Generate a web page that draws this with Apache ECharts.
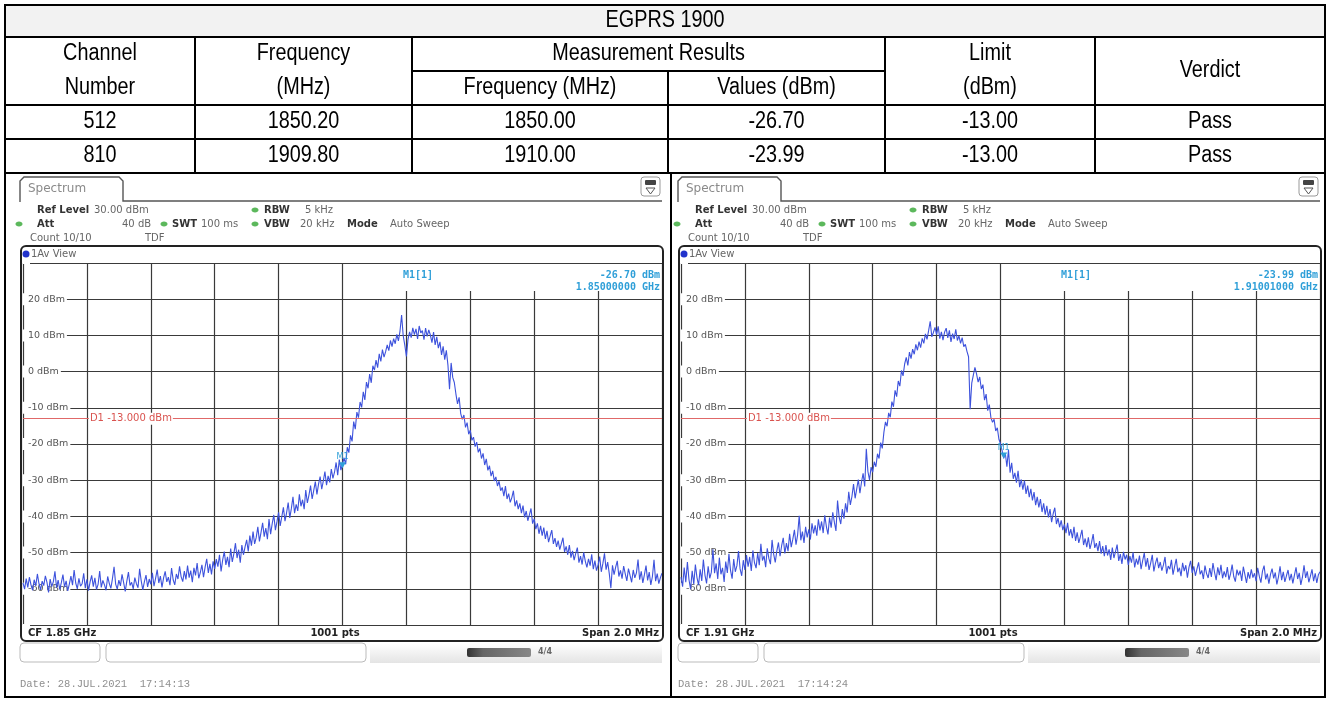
<!DOCTYPE html>
<html>
<head>
<meta charset="utf-8">
<script src="https://cdn.jsdelivr.net/npm/echarts@6/dist/echarts.min.js"></script>
<style>
html,body{margin:0;padding:0;background:#fff;}
#c{width:1330px;height:702px;}
</style>
</head>
<body>
<div id="c"></div>
<script>
// ---- Result table ----
const bandTitle = 'EGPRS 1900';
const channels = ['512', '810'];
const channelFreqs = ['1850.20', '1909.80'];
const measuredFreqs = ['1850.00', '1910.00'];
const measuredValues = ['-26.70', '-23.99'];
const limits = ['-13.00', '-13.00'];
const verdicts = ['Pass', 'Pass'];

// ---- Analyzer sweeps: level in dBm, 5 kHz steps over a 2 MHz span ----
const sweepStartMHz = [1849.0, 1909.0];
const sweepStepMHz = 0.005;
const trace512 = [
  -58.4,-60.1,-57.2,-59.6,-56.8,-58.9,-60.4,-57.5,-59.2,-55.9,-58.6,-60.3,-57.9,-59.1,-56.4,-58.2,-61.0,-57.3,-59.4,-58.0,
  -55.2,-59.7,-57.6,-60.2,-58.3,-56.1,-59.5,-57.8,-60.6,-58.7,-56.5,-59.0,-54.8,-58.4,-60.0,-57.1,-59.3,-58.6,-55.7,-59.8,
  -57.4,-60.5,-58.1,-56.3,-59.4,-57.0,-60.2,-58.8,-55.1,-59.6,-57.7,-58.9,-60.4,-56.6,-58.5,-59.9,-57.2,-53.9,-58.7,-60.1,
  -57.6,-59.2,-56.0,-58.3,-60.7,-57.9,-55.4,-59.1,-58.2,-60.0,-56.9,-58.6,-59.7,-54.5,-57.8,-60.3,-58.0,-56.2,-59.5,-57.3,
  -58.8,-55.6,-59.3,-57.1,-54.7,-58.4,-56.5,-59.6,-57.0,-55.2,-58.1,-56.8,-59.0,-54.3,-57.5,-58.9,-55.9,-57.3,-53.8,-56.7,
  -58.0,-55.1,-57.4,-53.6,-56.9,-55.0,-58.2,-54.2,-56.3,-52.9,-57.1,-55.5,-53.4,-56.8,-54.0,-51.7,-55.6,-53.1,-56.0,-52.4,
  -54.5,-51.8,-53.9,-50.6,-55.2,-52.0,-49.7,-53.4,-51.2,-54.0,-48.9,-52.6,-50.3,-47.4,-51.5,-49.2,-52.8,-47.9,-50.6,-48.4,
  -46.5,-49.7,-45.3,-48.1,-44.2,-47.6,-45.8,-42.9,-46.9,-44.4,-41.8,-45.6,-43.2,-46.3,-40.7,-44.9,-42.0,-39.6,-43.8,-41.4,
  -38.9,-42.6,-40.1,-37.5,-41.3,-39.0,-36.2,-40.4,-37.8,-34.6,-39.1,-36.7,-38.5,-33.9,-37.2,-35.4,-38.0,-32.7,-36.3,-34.1,
  -31.5,-35.2,-32.8,-30.4,-33.9,-31.1,-29.0,-32.5,-30.2,-27.6,-31.4,-28.8,-30.6,-26.9,-29.5,-27.8,-25.1,-28.6,-24.3,-27.2,
  -26.70,-23.8,-25.6,-20.9,-22.4,-17.6,-19.3,-13.8,-15.9,-11.2,-12.7,-8.4,-9.9,-5.6,-7.8,-2.9,-4.6,-0.7,-3.1,1.6,
  0.4,3.2,1.1,4.9,2.8,6.1,4.0,5.5,7.4,5.8,8.6,6.9,9.1,7.7,10.3,8.5,11.2,15.6,9.9,7.3,
  4.2,8.9,11.0,9.4,12.1,10.2,11.8,9.0,12.6,10.7,11.3,8.8,12.0,9.7,11.5,10.1,8.0,10.9,7.4,9.6,
  6.5,8.2,4.6,7.0,3.3,5.9,1.8,-4.9,2.4,-1.6,-3.0,-6.2,-8.9,-7.1,-11.6,-13.2,-12.0,-15.4,-14.1,-17.3,
  -16.2,-19.0,-18.1,-20.7,-19.5,-22.3,-21.2,-24.0,-22.6,-25.8,-24.1,-27.3,-26.0,-28.9,-27.4,-30.2,-29.1,-31.6,-30.3,-32.9,
  -32.0,-34.4,-31.6,-35.2,-33.7,-36.1,-34.8,-32.9,-37.2,-35.6,-38.0,-36.4,-39.1,-37.0,-40.3,-38.5,-41.2,-39.6,-37.8,-42.0,
  -40.7,-43.5,-41.9,-44.8,-42.6,-45.3,-43.1,-46.2,-44.0,-47.1,-45.4,-43.8,-47.6,-46.0,-48.4,-46.7,-49.2,-47.5,-45.9,-49.8,
  -48.3,-50.6,-47.9,-51.4,-49.5,-52.1,-50.2,-48.6,-52.8,-51.0,-53.3,-49.9,-52.4,-54.1,-51.7,-53.6,-50.5,-54.6,-52.2,-55.0,
  -53.4,-51.1,-55.3,-53.0,-50.2,-54.7,-52.6,-55.8,-59.8,-53.5,-56.1,-54.0,-52.3,-56.6,-54.9,-57.2,-53.7,-55.9,-57.8,-54.4,
  -56.3,-58.2,-54.8,-57.0,-55.6,-51.9,-57.5,-55.2,-58.4,-56.1,-53.6,-57.7,-55.4,-58.9,-56.6,-52.0,-57.9,-55.8,-58.6,-56.9,
  -55.7
];
const trace810 = [
  -56.8,-59.4,-54.1,-58.2,-52.6,-57.5,-60.1,-55.0,-58.7,-53.3,-56.9,-59.0,-54.6,-57.8,-51.9,-56.2,-58.5,-53.8,-57.1,-55.4,
  -49.1,-55.7,-53.0,-57.3,-51.4,-56.0,-54.2,-58.1,-52.5,-55.6,-50.3,-54.9,-57.2,-51.8,-55.3,-53.6,-49.6,-54.5,-56.4,-52.1,
  -54.8,-50.7,-53.9,-51.2,-55.1,-49.4,-52.8,-54.3,-50.1,-53.5,-47.6,-52.2,-50.9,-54.0,-48.8,-51.6,-53.2,-46.5,-50.4,-52.7,
  -49.5,-47.2,-51.0,-48.1,-45.9,-50.2,-47.4,-49.6,-44.8,-48.5,-46.3,-43.7,-47.8,-45.1,-39.8,-46.6,-44.2,-47.3,-42.9,-45.8,
  -43.6,-46.4,-41.9,-44.7,-42.5,-45.3,-40.8,-43.9,-41.4,-44.6,-39.7,-42.8,-45.0,-40.3,-43.1,-38.9,-41.6,-44.0,-35.6,-40.2,
  -42.1,-38.0,-40.6,-36.4,-38.9,-33.2,-36.8,-34.5,-31.1,-35.0,-32.4,-29.8,-33.6,-30.5,-28.1,-31.7,-21.3,-27.6,-29.9,-26.4,
  -27.8,-24.9,-26.3,-22.7,-24.0,-19.6,-21.2,-16.8,-13.9,-15.1,-11.4,-12.6,-8.3,-9.7,-5.2,-6.9,-2.6,-4.0,0.3,-1.2,
  2.1,3.9,1.7,5.4,3.6,6.2,4.8,7.5,5.9,8.3,6.6,9.2,7.8,10.4,8.9,11.3,13.9,9.6,10.8,12.2,
  10.2,12.5,9.1,11.0,8.7,10.9,12.0,9.3,11.4,8.2,10.5,9.0,11.7,8.6,9.9,7.8,9.4,6.9,7.5,5.6,
  4.1,-10.4,-3.2,-1.0,1.2,-0.6,-2.9,-1.5,-4.8,-3.6,-7.9,-6.2,-10.8,-9.1,-12.7,-14.0,-13.2,-16.4,-15.5,-18.7,
  -19.9,-21.8,-23.99,-22.5,-26.3,-21.6,-27.9,-25.2,-29.6,-28.0,-30.7,-27.4,-31.9,-29.8,-32.6,-30.1,-33.8,-31.5,-34.7,-32.4,
  -35.6,-33.3,-36.9,-34.6,-37.5,-35.2,-38.8,-36.4,-39.5,-37.1,-40.3,-38.0,-41.6,-39.2,-37.6,-42.1,-40.5,-43.0,-41.1,-43.8,
  -42.2,-44.6,-41.8,-45.3,-43.5,-46.0,-42.9,-46.8,-44.4,-47.3,-45.6,-43.7,-47.9,-46.1,-48.5,-45.8,-49.0,-47.2,-44.9,-48.7,
  -47.4,-49.6,-46.8,-50.3,-48.2,-51.0,-47.9,-50.8,-49.1,-52.0,-48.6,-51.5,-49.7,-47.8,-52.3,-50.4,-53.1,-49.8,-51.9,-50.6,
  -53.4,-51.0,-52.8,-49.9,-54.1,-51.7,-53.3,-50.8,-54.6,-52.2,-50.1,-53.9,-51.5,-54.8,-52.9,-50.6,-55.2,-53.0,-51.4,-54.3,
  -52.6,-55.0,-53.4,-51.2,-55.8,-53.7,-54.6,-52.0,-56.1,-53.9,-51.7,-55.4,-54.2,-56.5,-52.8,-55.1,-53.5,-56.9,-54.0,-52.3,
  -55.6,-53.8,-56.4,-54.5,-52.7,-56.0,-54.9,-57.3,-53.6,-55.8,-57.0,-54.3,-56.7,-52.9,-55.5,-57.6,-54.1,-56.2,-53.4,-57.1,
  -55.2,-56.8,-54.0,-57.5,-55.9,-53.3,-56.6,-58.0,-54.7,-56.3,-55.0,-57.8,-53.9,-56.1,-58.4,-55.4,-57.2,-54.6,-56.9,-55.7,
  -57.9,-54.2,-56.5,-58.3,-55.1,-53.6,-57.4,-55.8,-58.6,-56.0,-54.4,-57.1,-55.5,-58.8,-56.7,-53.8,-57.6,-55.3,-58.1,-56.4,
  -54.8,-57.7,-55.9,-58.5,-56.2,-54.1,-57.3,-55.6,-58.9,-56.8,-53.5,-57.0,-55.2,-58.2,-56.5,-54.6,-57.9,-55.7,-58.4,-56.1,
  -55.3
];
const traces = [trace512, trace810];
const markerFreqMHz = [1850.00, 1910.01];
const markerLevel = [-26.70, -23.99];
const markerReadout = [['-26.70 dBm', '1.85000000 GHz'], ['-23.99 dBm', '1.91001000 GHz']];
const displayLineDbm = -13;
const displayLineText = 'D1 -13.000 dBm';
const centerLabels = ['CF 1.85 GHz', 'CF 1.91 GHz'];
const dateLabels = ['Date: 28.JUL.2021  17:14:13', 'Date: 28.JUL.2021  17:14:24'];
const refLevelMax = 30, refLevelMin = -70, levelStep = 10;
const spanMHz = 2, divisionMHz = 0.2;

// ---- drawing helpers ----
const G = [];
const TF = '22px "Liberation Sans", Arial, sans-serif';
const SF = '"DejaVu Sans", Verdana, sans-serif';
function txt(x, y, s, font, fill, align, z) {
  G.push({ type: 'text', z: z || 20, silent: true,
    style: { x: x, y: y, text: s, font: font, fill: fill || '#000', align: align || 'center', verticalAlign: 'middle' } });
}
// table cell text, slightly condensed
function cellTxt(x, y, s) {
  G.push({ type: 'text', z: 20, silent: true, x: x, y: y, scaleX: 0.9, scaleY: 1.05,
    style: { x: 0, y: 0, text: s, font: TF, fill: '#000', align: 'center', verticalAlign: 'middle' } });
}
function ln(x1, y1, x2, y2, stroke, w, z) {
  G.push({ type: 'line', z: z || 20, silent: true, shape: { x1: x1, y1: y1, x2: x2, y2: y2 }, style: { stroke: stroke, lineWidth: w } });
}
function rc(x, y, w, h, fill, stroke, lw, r, z) {
  G.push({ type: 'rect', z: z || 1, silent: true, shape: { x: x, y: y, width: w, height: h, r: r || 0 },
    style: { fill: fill || 'none', stroke: stroke || 'none', lineWidth: lw || 0 } });
}

// ---- table ----
const colX = [5, 195, 412, 668, 885, 1095, 1325];
const rowY = [5, 37, 71, 105, 139, 173];
const tableBottom = 697;
const panelSplitX = 671;
const mid = (a, b) => (a + b) / 2;
rc(5, 5, 1320, 32, '#f2f2f2', null, 0, 0, 1);
cellTxt(mid(colX[0], colX[6]), 21, bandTitle);
cellTxt(mid(colX[0], colX[1]), 54, 'Channel');
cellTxt(mid(colX[0], colX[1]), 88, 'Number');
cellTxt(mid(colX[1], colX[2]), 54, 'Frequency');
cellTxt(mid(colX[1], colX[2]), 88, '(MHz)');
cellTxt(mid(colX[2], colX[4]), 54, 'Measurement Results');
cellTxt(mid(colX[2], colX[3]), 88, 'Frequency (MHz)');
cellTxt(mid(colX[3], colX[4]), 88, 'Values (dBm)');
cellTxt(mid(colX[4], colX[5]), 54, 'Limit');
cellTxt(mid(colX[4], colX[5]), 88, '(dBm)');
cellTxt(mid(colX[5], colX[6]), 71, 'Verdict');
const rowCols = [channels, channelFreqs, measuredFreqs, measuredValues, limits, verdicts];
for (let r = 0; r < channels.length; r++) {
  const yc = mid(rowY[3 + r], rowY[4 + r]);
  for (let c = 0; c < 6; c++) cellTxt(mid(colX[c], colX[c + 1]), yc, rowCols[c][r]);
}
ln(5, 37, 1325, 37, '#000', 2);
ln(colX[2], 71, colX[4], 71, '#000', 2);
ln(5, 105, 1325, 105, '#000', 2);
ln(5, 139, 1325, 139, '#000', 2);
ln(5, 173, 1325, 173, '#000', 2);
[1, 2, 4, 5].forEach(c => ln(colX[c], 37, colX[c], 173, '#000', 2));
ln(colX[3], 71, colX[3], 173, '#000', 2);
ln(panelSplitX, 173, panelSplitX, tableBottom, '#000', 2);
rc(5, 5, 1320, 692, null, '#000', 2, 0, 21);

// ---- analyzer screen chrome ----
const plotLeft = [23, 681];
const plotTop = 263, plotH = 362, plotW = 639;
const cyan = '#2f9fd8';
function panel(p) {
  const dx = plotLeft[p] - plotLeft[0];
  // tab + title bar
  G.push({ type: 'polyline', z: 5, silent: true,
    shape: { points: [[dx + 20, 202], [dx + 20, 181], [dx + 24, 177], [dx + 119, 177], [dx + 123, 181], [dx + 123, 201], [dx + 662, 201]] },
    style: { stroke: '#555', lineWidth: 1.4, fill: 'none' } });
  txt(dx + 28, 189, 'Spectrum', '12px ' + SF, '#8a8a8a', 'left', 6);
  // menu icon
  rc(dx + 641, 177, 19, 19, '#fff', '#999', 1, 3, 6);
  rc(dx + 645, 180, 11, 5, '#444', null, 0, 1, 7);
  G.push({ type: 'polygon', z: 7, silent: true, shape: { points: [[dx + 646, 188], [dx + 655, 188], [dx + 650.5, 194]] }, style: { fill: 'none', stroke: '#555', lineWidth: 1 } });
  // settings lines
  const dot = (x, y) => G.push({ type: 'ellipse', z: 6, silent: true, shape: { cx: x, cy: y, rx: 3.5, ry: 2.5 }, style: { fill: '#5cb85c' } });
  const B = 'bold 10px ' + SF, N = '10px ' + SF;
  txt(dx + 37, 210, 'Ref Level', B, '#333', 'left', 6);
  txt(dx + 94, 210, '30.00 dBm', N, '#666', 'left', 6);
  dot(dx + 255, 210);
  txt(dx + 264, 210, 'RBW', B, '#333', 'left', 6);
  txt(dx + 305, 210, '5 kHz', N, '#666', 'left', 6);
  dot(dx + 19, 224);
  txt(dx + 37, 224, 'Att', B, '#333', 'left', 6);
  txt(dx + 122, 224, '40 dB', N, '#666', 'left', 6);
  dot(dx + 164, 224);
  txt(dx + 172, 224, 'SWT', B, '#333', 'left', 6);
  txt(dx + 201, 224, '100 ms', N, '#666', 'left', 6);
  dot(dx + 255, 224);
  txt(dx + 264, 224, 'VBW', B, '#333', 'left', 6);
  txt(dx + 300, 224, '20 kHz', N, '#666', 'left', 6);
  txt(dx + 347, 224, 'Mode', B, '#333', 'left', 6);
  txt(dx + 390, 224, 'Auto Sweep', N, '#666', 'left', 6);
  txt(dx + 30, 238, 'Count 10/10', N, '#666', 'left', 6);
  txt(dx + 145, 238, 'TDF', N, '#666', 'left', 6);
  // diagram frame
  rc(dx + 21, 246, 642, 395, null, '#222', 2, 5, 30);
  G.push({ type: 'circle', z: 6, silent: true, shape: { cx: dx + 26, cy: 254, r: 3.5 }, style: { fill: '#2233cc' } });
  txt(dx + 31, 254, '1Av View', N, '#666', 'left', 6);
  // marker readout
  const MF = 'bold 10px "DejaVu Sans Mono", monospace';
  rc(dx + 347, 264, 314, 27, '#fff', null, 0, 0, 10);
  txt(dx + 403, 275, 'M1[1]', MF, cyan, 'left', 11);
  txt(dx + 660, 275, markerReadout[p][0], MF, cyan, 'right', 11);
  txt(dx + 660, 287, markerReadout[p][1], MF, cyan, 'right', 11);
  // footer
  const FF = 'bold 10px ' + SF;
  txt(dx + 28, 633, centerLabels[p], FF, '#222', 'left', 11);
  txt(dx + 335, 633, '1001 pts', FF, '#222', 'center', 11);
  txt(dx + 659, 633, 'Span ' + spanMHz.toFixed(1) + ' MHz', FF, '#222', 'right', 11);
  // status bar
  G.push({ type: 'rect', z: 2, silent: true, shape: { x: dx + 370, y: 643, width: 292, height: 20 },
    style: { fill: new echarts.graphic.LinearGradient(0, 0, 0, 1, [{ offset: 0, color: '#ffffff' }, { offset: 1, color: '#e4e4e4' }]) } });
  rc(dx + 20, 643, 80, 19, '#fff', '#bbb', 1, 4, 3);
  rc(dx + 106, 643, 260, 19, '#fff', '#bbb', 1, 4, 3);
  G.push({ type: 'rect', z: 3, silent: true, shape: { x: dx + 467, y: 648, width: 64, height: 9, r: 2 },
    style: { fill: new echarts.graphic.LinearGradient(0, 0, 1, 0, [{ offset: 0, color: '#333' }, { offset: 0.25, color: '#666' }, { offset: 1, color: '#888' }]) } });
  txt(dx + 545, 652, '4/4', 'bold 8px ' + SF, '#666', 'center', 4);
  txt(dx + 20, 684, dateLabels[p], '10.5px "Liberation Mono", "DejaVu Sans Mono", monospace', '#8f8f8f', 'left', 4);
}
panel(0);
panel(1);

// ---- chart ----
const chart = echarts.init(document.getElementById('c'), null, { renderer: 'canvas', width: 1330, height: 702 });
const grids = [], xAxes = [], yAxes = [], series = [];
for (let p = 0; p < 2; p++) {
  grids.push({ left: plotLeft[p], top: plotTop, width: plotW, height: plotH });
  xAxes.push({ type: 'value', gridIndex: p, min: sweepStartMHz[p], max: sweepStartMHz[p] + spanMHz, interval: divisionMHz,
    axisLabel: { show: false }, axisTick: { show: false }, axisLine: { show: false },
    splitLine: { show: true, lineStyle: { color: '#3a3a3a', width: 1.2 } } });
  yAxes.push({ type: 'value', gridIndex: p, min: refLevelMin, max: refLevelMax, interval: levelStep,
    axisTick: { show: false }, axisLine: { show: false },
    splitLine: { show: true, lineStyle: { color: '#3a3a3a', width: 1.2 } },
    axisLabel: { inside: true, margin: 0, fontSize: 9.5, fontFamily: 'DejaVu Sans', color: '#555',
      backgroundColor: '#fff', padding: [1, 2, 1, 5],
      formatter: v => (v === refLevelMax || v === refLevelMin) ? '' : v + ' dBm' } });
  const pts = traces[p].map((v, i) => [sweepStartMHz[p] + i * sweepStepMHz, v]);
  series.push({
    type: 'line', xAxisIndex: p, yAxisIndex: p, data: pts, showSymbol: false, animation: false,
    lineStyle: { color: '#3d52dc', width: 1.1 }, z: 3,
    markLine: { silent: true, symbol: 'none', animation: false,
      lineStyle: { color: '#e06868', width: 1, type: 'solid' }, label: { show: false },
      data: [{ yAxis: displayLineDbm }] },
    markPoint: { animation: false, data: [
      { coord: [markerFreqMHz[p], markerLevel[p]], symbol: 'triangle', symbolRotate: 180, symbolSize: [7, 6], symbolOffset: [0, -3],
        itemStyle: { color: cyan },
        label: { show: true, formatter: 'M1', position: 'top', distance: 1, color: cyan, fontSize: 8, fontFamily: 'DejaVu Sans' } },
      { coord: [sweepStartMHz[p] + divisionMHz, displayLineDbm], symbol: 'circle', symbolSize: 0,
        label: { show: true, formatter: displayLineText, position: 'right', distance: 2, color: '#d9534f', fontSize: 10,
          fontFamily: 'DejaVu Sans', backgroundColor: '#fff', padding: [1, 1, 1, 1] } }
    ] }
  });
}
chart.setOption({
  animation: false,
  backgroundColor: '#fff',
  grid: grids, xAxis: xAxes, yAxis: yAxes, series: series,
  graphic: { elements: G }
});
</script>
</body>
</html>
